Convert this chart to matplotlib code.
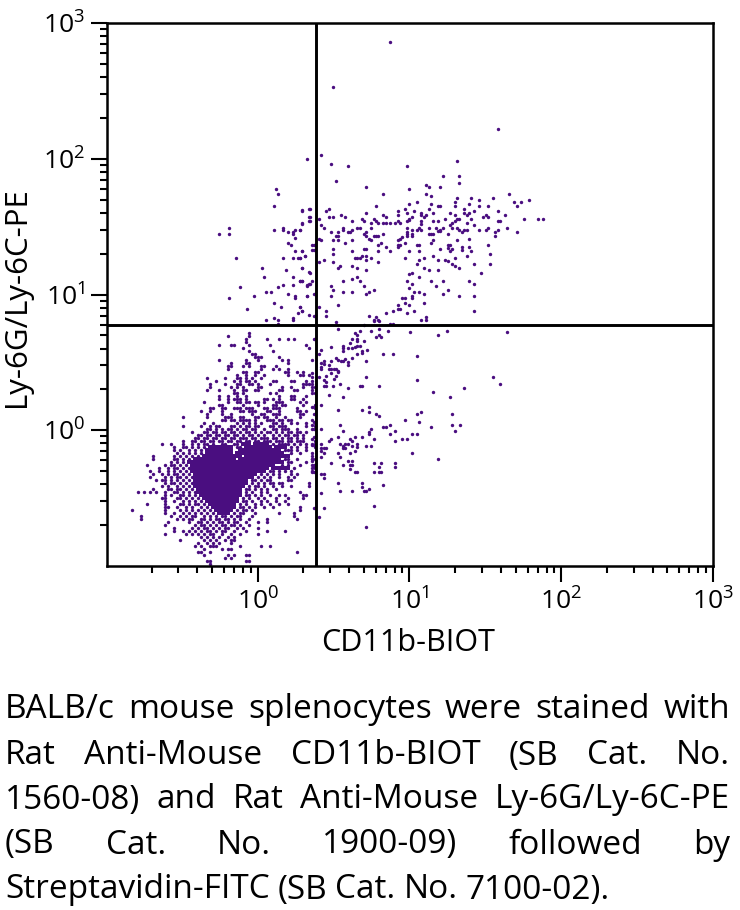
import numpy as np
import matplotlib
matplotlib.use("Agg")
import matplotlib.pyplot as plt
from matplotlib.ticker import FixedLocator, NullFormatter

plt.rcParams['font.family'] = ['Open Sans', 'DejaVu Sans']
plt.rcParams['mathtext.fontset'] = 'custom'
plt.rcParams['mathtext.rm'] = 'Open Sans'

X_LABEL = "CD11b-BIOT"
Y_LABEL = "Ly-6G/Ly-6C-PE"
X_GATE = 2.44
Y_GATE = 5.96
MAJOR_TICKS = [1, 10, 100, 1000]
TICK_LABELS = [r"$\mathregular{10^{0}}$", r"$\mathregular{10^{1}}$",
               r"$\mathregular{10^{2}}$", r"$\mathregular{10^{3}}$"]
CAPTION = [
    "BALB/c mouse splenocytes were stained with",
    "Rat Anti-Mouse CD11b-BIOT (SB Cat. No.",
    "1560-08) and Rat Anti-Mouse Ly-6G/Ly-6C-PE",
    "(SB Cat. No. 1900-09) followed by",
    "Streptavidin-FITC (SB Cat. No. 7100-02).",
]

# events, as (log10 CD11b, log10 Ly-6G/Ly-6C)
upper_events = [
 (.873,2.862),(.498,2.532),(1.581,2.218),(.324,1.996),(.418,2.028),(.482,1.964),(.592,1.95),(.983,1.95),(1.313,1.981),
 (.513,1.839),(1.221,1.871),(1.328,1.871),(1.328,1.822),(.717,1.792),(.999,1.775),(1.111,1.807),(1.126,1.792),(1.203,1.792),
 (.827,1.743),(1.111,1.743),(1.142,1.728),(1.658,1.743),(1.313,1.711),(1.407,1.711),(1.456,1.696),(1.548,1.711),(1.785,1.696),
 (1.691,1.679),(1.737,1.679),(1.706,1.649),(1.047,1.679),(.999,1.664),(1.142,1.664),(1.188,1.649),(1.203,1.649),(1.298,1.679),
 (1.298,1.649),(1.392,1.664),(1.456,1.649),(1.517,1.649),(.781,1.649),(.968,1.632),(1.126,1.632),(1.361,1.632),(.342,1.632),
 (.293,1.617),(.467,1.632),(.451,1.617),(.922,1.617),(.922,1.585),(1.032,1.617),(.983,1.6),(1.078,1.6),(1.078,1.585),(1.157,1.6),
 (1.267,1.6),(1.361,1.6),(1.377,1.585),(1.298,1.585),(1.392,1.6),(1.425,1.617),(1.581,1.617),(1.627,1.585),(.717,1.6),(.546,1.585),
 (.577,1.571),(.467,1.571),(.498,1.571),(.342,1.571),(.342,1.539),(.827,1.585),(.843,1.571),(1.016,1.571),(1.0,1.553),(1.111,1.585),
 (1.093,1.571),(1.236,1.553),(1.487,1.571),(1.502,1.585),(1.517,1.571),(1.407,1.553),(1.313,1.553),(1.328,1.553),(1.752,1.553),
 (1.847,1.553),(1.878,1.553),(.403,1.553),(.687,1.553),(.702,1.539),(.623,1.539),(.766,1.553),(.781,1.539),(.796,1.526),(.748,1.526),
 (.827,1.526),(.843,1.526),(.873,1.526),(.906,1.526),(.922,1.539),(.937,1.526),(.983,1.539),(.999,1.546),(1.078,1.539),(1.078,1.522),
 (1.157,1.539),(1.188,1.539),(1.282,1.526),(1.298,1.539),(1.377,1.526),(1.581,1.539),(1.597,1.539),(.293,1.526),(.418,1.509),(.434,1.492),
 (.28,1.477),(1.267,1.509),(1.282,1.492),(1.425,1.509),(1.643,1.492),(.748,1.492),(.983,1.492),(1.062,1.492),(1.047,1.477),(1.078,1.477),
 (1.126,1.492),(1.172,1.492),(1.221,1.492),(1.203,1.477),(1.313,1.492),(1.328,1.477),(1.456,1.477),(1.502,1.477),(1.517,1.492),(1.581,1.477),
 (1.566,1.46),(1.566,1.428),(1.706,1.46),(.561,1.492),(.561,1.477),(.656,1.492),(.671,1.492),(.482,1.46),(.528,1.46),(.592,1.46),(.607,1.46),
 (.623,1.472),(.717,1.46),(.827,1.448),(.983,1.46),(.983,1.442),(.983,1.428),(1.014,1.472),(1.014,1.448),(1.014,1.428),(1.126,1.448),
 (1.142,1.448),(1.157,1.448),(1.188,1.467),(1.203,1.467),(1.251,1.442),(1.346,1.46),(1.361,1.472),(1.377,1.472),(.513,1.428),(.528,1.428),
 (.702,1.442),(.717,1.428),(.733,1.411),(.748,1.398),(.766,1.428),(.781,1.428),(.796,1.428),(.937,1.411),(.922,1.403),(.953,1.423),
 (.403,1.411),(.418,1.403),(.498,1.398),(.528,1.398),(.623,1.398),(.577,1.381),(.812,1.381),(.796,1.366),(.968,1.381),(1.157,1.398),
 (1.142,1.381),(1.313,1.398),(1.392,1.411),(1.517,1.366),(.357,1.361),(.372,1.361),(.357,1.33),(.372,1.33),(.843,1.349),(.922,1.366),
 (.937,1.366),(.922,1.347),(1.047,1.366),(1.062,1.366),(1.251,1.361),(1.267,1.361),(1.251,1.344),(1.346,1.349),(1.346,1.33),(1.392,1.349),
 (1.407,1.32),(.498,1.332),(.498,1.302),(.702,1.332),(.717,1.332),(.623,1.32),(.796,1.32),(.873,1.32),(.999,1.32),(1.062,1.32),(1.203,1.332),
 (1.267,1.32),(1.282,1.332),(.293,1.32),(.309,1.285),(.28,1.271),(.687,1.285),(.671,1.271),(.656,1.271),(.64,1.271),(.717,1.285),(.717,1.256),
 (.748,1.271),(.968,1.271),(1.093,1.271),(1.062,1.256),(1.157,1.285),(1.188,1.256),(1.298,1.271),(1.377,1.285),(1.533,1.302),(.434,1.256),
 (.403,1.238),(.498,1.238),(.796,1.238),(1.047,1.226),(1.236,1.256),(1.251,1.246),(1.282,1.221),(1.298,1.209),(1.425,1.221),(1.533,1.221),
 (.623,1.209),(.656,1.192),(.544,1.209),(.528,1.192),(.293,1.192),(.717,1.177),(1.093,1.192),(1.126,1.177),(1.188,1.177),(1.328,1.192),
 (.342,1.16),(1.016,1.16),(1.0,1.148),(1.471,1.16),(1.062,1.131),(.656,1.131),(.623,1.113),(.561,1.096),(.671,1.096),(.28,1.098),(.293,1.098),
 (.357,1.096),(.342,1.079),(.324,1.064),(.983,1.096),(1.142,1.096),(1.221,1.096),(1.172,1.064),(1.392,1.096),(1.425,1.079),(1.016,1.081),
 (.999,1.049),(.482,1.064),(.498,1.034),(.702,1.064),(.764,1.034),(.733,1.017),(.717,1.005),(.561,1.017),(.623,1.017),(1.251,1.034),
 (1.032,1.017),(1.062,1.017),(1.093,1.002),(1.221,1.002),(.372,1.002),(.324,.988),(.482,.988),(1.328,.988),(1.425,.988),(.953,.973),
 (.968,.973),(1.016,.988),(1.016,.973),(.968,.938),(.999,.924),(1.093,.938),(.528,.924),(.922,.924),(.922,.892),(.937,.892),(.403,.909),
 (.28,.909),(.293,.877),(.451,.877),(.451,.845),(.372,.845),(.891,.877),(.843,.862),(.983,.862),(1.032,.877),(1.425,.877),(.733,.845),
 (.781,.833),(.766,.815),(.796,.815),(1.111,.833),(1.111,.815),(1.078,.815),
]

lower_events = [
 (1.643,.722),(1.001,.722),(1.188,.705),(1.249,.734),(.858,.734),(.797,.746),(.748,.734),(.671,.734),(.531,.746),(.797,.705),(.812,.69),
 (.781,.69),(.638,.717),(.654,.705),(.372,.673),(.654,.673),(.654,.655),(.702,.655),(.623,.673),(.608,.641),(.482,.611),(.419,.592),
 (.561,.623),(.561,.606),(.561,.587),(.592,.606),(.623,.606),(.638,.611),(.671,.623),(.656,.623),(.72,.592),(.687,.567),(.656,.562),
 (.687,.582),(.827,.562),(.891,.562),(1.047,.545),(.403,.562),(.623,.53),(.513,.53),(.531,.518),(.546,.513),(.561,.513),(.577,.525),
 (.717,.513),(.482,.513),(.436,.513),(.419,.496),(.436,.488),(.592,.5),(.592,.483),(.419,.464),(.419,.451),(.467,.481),(.467,.451),
 (.482,.451),(.5,.451),(.515,.451),(.531,.427),(.531,.434),(.482,.422),(.515,.402),(.5,.378),(.451,.402),(.357,.422),(.357,.39),(.405,.39),
 (.434,.37),(.451,.353),(.717,.39),(1.047,.372),(1.548,.39),(1.597,.34),(.544,.34),(.434,.323),(.451,.323),(.498,.323),(.671,.323),
 (.687,.323),(.797,.323),(.592,.309),(1.361,.309),(1.157,.279),(.467,.262),(.561,.245),(1.267,.245),(.419,.183),(.357,.168),(.372,.168),
 (.531,.151),(.687,.151),(.733,.168),(.733,.136),(.372,.119),(.779,.119),(.797,.104),(1.047,.119),(1.078,.136),(1.282,.119),(.968,.075),
 (1.062,.058),(.372,.058),(.357,.04),(.544,.04),(.873,.04),(.827,.026),(.843,.026),(1.282,.04),(1.331,.04),(1.139,.026),(.419,.009),
 (.357,.009),(.372,.009),(.561,-.006),(.906,-.006),(.748,.009),(.733,-.011),(.733,-.028),(1.298,-.006),(.873,-.024),(1.016,-.024),
 (1.047,-.024),(.687,-.053),(.531,-.053),(.482,-.065),(.467,-.082),(.608,-.065),(.623,-.082),(.638,-.053),(.764,-.068),(.953,-.068),
 (.986,-.068),(.906,-.082),(.357,-.065),(.372,-.053),(.357,-.107),(.372,-.107),(.544,-.1),(.577,-.1),(.592,-.1),(.561,-.117),(.577,-.134),
 (.561,-.134),(.656,-.1),(.623,-.117),(.656,-.127),(.717,-.117),(.748,-.117),(.419,-.1),(.419,-.134),(.436,-.134),(.451,-.13),(.419,-.151),
 (.436,-.166),(.531,-.164),(.608,-.164),(.638,-.151),(1.016,-.164),(.357,-.164),(.419,-.196),(.544,-.196),(1.188,-.21),(.357,-.213),
 (.357,-.225),(.592,-.228),(.623,-.228),(.764,-.242),(.812,-.242),(.906,-.242),(.482,-.242),(.372,-.257),(.561,-.257),(.608,-.257),
 (.623,-.257),(.797,-.274),(.906,-.274),(.608,-.289),(.638,-.304),(.654,-.304),(.764,-.304),(.797,-.304),(.812,-.304),(.372,-.274),
 (.372,-.304),(.357,-.304),(.419,-.321),(.436,-.321),(.436,-.353),(.531,-.385),(.687,-.385),(.687,-.415),(.827,-.4),(.733,-.432),
 (.717,-.447),(.702,-.447),(.544,-.447),(.623,-.447),(.419,-.464),(.764,-.557),(.372,-.575),(.436,-.575),(.403,-.639),(.717,-.715),
 (.513,.796),(.702,.778),(.873,.783),(.889,.783),(.764,.808),(.797,.808),
]

left_events = [
 (.122,1.778),(.137,1.743),(.107,1.65),(-.256,1.443),(-.192,1.492),(-.192,1.443),(.107,1.477),(.168,1.487),(.168,1.477),(.201,1.46),
 (.232,1.46),(.232,1.443),(.247,1.477),(.278,1.477),(.294,1.62),(.34,1.632),(.34,1.571),(.34,1.541),(.294,1.522),(.247,1.414),(.201,1.379),
 (.217,1.367),(.247,1.32),(.294,1.32),(-.146,1.271),(.168,1.271),(.232,1.271),(.263,1.271),(.278,1.271),(.309,1.286),(.028,1.192),(.043,1.131),
 (.184,1.177),(.294,1.192),(.34,1.163),(.232,1.131),(.278,1.099),(.294,1.099),(-.115,1.052),(.168,1.067),(.137,1.052),(.232,1.067),(.324,1.067),
 (.34,1.079),(.058,1.017),(.089,1.017),(-.192,.973),(-.021,.988),(.201,1.003),(.247,.988),(.247,.973),(.324,.988),(.107,.939),(-.067,.892),
 (.153,.909),(.278,.909),(.294,.877),(.263,.862),(.107,.83),(.137,.813),(.232,.83),(.232,.813),(.058,.813),(.137,.784),(.34,.848),
]

# occupancy of the crowded lower-left region: one entry per bin row, listing occupied
# column bins; "a-b" is a solid run of bins
BIN_X0, BIN_DX = -0.8405, 0.01978
BIN_Y0, BIN_DY = 0.8155, 0.02214
FIRST_ROW = 4
crowded_rows = [
 "39","32,39","38,45,49,52,54,61","38","29,33,34,39,46,58","37,59","39,47","40,41","41,42,43,49","29,38,42,50,52,60",
 "33,38,39,52","32,33,37,39,43,44,48","32,43,47,49,52","37,38,41,42,51,52,55,57","35,38,41,44,52,56,57,59",
 "25,31,35,36,38,40,43","28,34,36,38,39,41,47,48,53,54,58,60","26,31,35,36,39,40,42,46,57,58,59,60",
 "26,33,35,37,42,43,50,53,57,60,61","25,29,34,37,38,41,42,49,50,54,55,60","34,35,37,46,48,60,61","29,32,35,38,49,53,54,58",
 "29,32,34,35,36,38,44,45,47,49,53,54,57","24,32,35,36,38,39,41,42,44,48,49,50,56,58","29,30,37,42,47,48,50,51,57,61",
 "26,27,30,31,34,35,36,38,39,40,44,45,47,48,49,55,61","23,26,30,36,37,39,40,41,45,46,49,55,56,58","25,30,33,40,43,44,47,48,49,56,57",
 "17,25,31,32,33,36,37,41,42,44,45,48,51,56","30,31,33,34,36,37,38,39,41,45,46,47,49,50,52,53,60",
 "24,27,35,37,39,41,43,47,48,50,53,55,58,61","17,23,26,28,29,33,34,36,38,39,41,42,46,47,49,50,51,58,61",
 "25,26,28,30,32,33,35,37,38,40,41,44,47,48,50,51,52,55","20,24,25,27,28,30,31,33,34,36,38,39,41,43,45,46,48,50,52,53,55,56,58",
 "22,23,25,26,28,29,31,32,34,35,37,39,40,42,44,47,49,51,52,54,55,57","21,22,24,25,27,28,30,31,33,34,36,37,38,40,41,43,44,45,47,48,50,52,53,55,57",
 "17,20,21,23,24,26,27,29,30,32,33,35,36,38,39,41,42,44,45,46,48,49,50,52,53,55,56,57,61","10,13,17,20,22,24,25,27,30,31,34,35,37-39,41-45,47,49,50,51,52,54,56,58,60,61",
 "14,17,18,20,22,24,26-33,35,36,38-46,48-51,53,55,58,61","14,16,19,21,23,25-33,36-49,51,52,53,55,58",
 "15,17,19,21,23,25-33,35-50,53,56","7,14,16,18,20,22,24-36,38-52,60","7,14,15,17,19,21-34,36-49,51,52,55,60,61",
 "13,15,17,19-50,52,53,58","5,11,13,14,16,18,20-47,50,52,56,60,61","9,12,14,15,17,19,20-45,47-52,54,60,61",
 "6,9,12,14,16,18,20-44,46,47,49,51,53,60","7,10,12,14,15,17,19,21-41,43,45,47,49,53,55","6,11,13,15,16,18,20,21-40,42,44,46,49,52,54",
 "8,10,11,13,15,17,19,21-38,40,41,43,45,46,52,53","11,13,14,16,18,20,21-38,40,42,44,46,47,49,50,59","10,12,15,17,19,21-37,39,41,42,44,47,50,53,59",
 "7,12,13,15,16,18,20,22-36,38,39,41,43,45,48","2,4,6,8,11,14,15,17,19,21,22-36,38,40,43,45,56","11,13,16,17,19,21,23-36,38,39,41,43,46,49,51,57,58",
 "10,11,15,16,18,20,22,24-35,37,39,42,44,48,52,57","11,14,17,19,21,23,25-35,37,38,40,43,45,48,51","5,11,16,17,19,21,22,24,26-34,36,38,41,43,46,49,52",
 "11,12,15,18,20,23,25,27-34,36,37,39,41,44,47,56","0,11,16,18,20,22,24,26,28-33,35,37,38,40,56","11,14,17,19,21,23,25,27,29-32,34,36,37,41,49,54",
 "3,13,16,18,20,21,24,26,28,30,31,33,35,36,40,54","3,15,17,19,20,23,24,26,28,29,31,32,34,36,39,45,55","12,19,22,23,25,27,29,30,32,34,35,38,42,45",
 "11,21,23,24,26,28,30,31,33,34,36,39","14,20,22,24,25,27,29,31,32,35,37,42","14,17,19,21,23,25,26,28,30,31,34,38,45,51",
 "11,18,20,22,24,26,27,30,33,36,42","23,25,27,29,32,34","16,24,26,28,31,33,34","22,25,27,29,33","21,23,26,27,28,36,43,46",
 "24,30,32,33","22,23,26,55","24,32,34,38,39","31,33","25,26,38,39","26",
]

PURPLE = "#4a0e80"

def parse_bins():
    single, solid = [], []
    for r, row in enumerate(crowded_rows):
        ly = BIN_Y0 - (r + FIRST_ROW + 0.5) * BIN_DY
        for tok in row.split(","):
            if "-" in tok:
                a, b = tok.split("-")
                for c in range(int(a), int(b) + 1):
                    solid.append((BIN_X0 + (c + 0.5) * BIN_DX, ly))
            else:
                single.append((BIN_X0 + (int(tok) + 0.5) * BIN_DX, ly))
    return np.array(single), np.array(solid)

fig = plt.figure(figsize=(7.4, 9.1), dpi=100)
ax = fig.add_axes([107/740, 1-566/910, (713-107)/740, (566-23)/910])
ax.set_xscale("log")
ax.set_yscale("log")
ax.set_xlim(0.1017, 1000)
ax.set_ylim(0.1, 1000)

events = np.array(upper_events + lower_events + left_events)
single, solid = parse_bins()
dots = np.vstack([events, single])
ax.scatter(10**dots[:, 0], 10**dots[:, 1], s=6.0, c=PURPLE, linewidths=0, zorder=2)
ax.scatter(10**solid[:, 0], 10**solid[:, 1], s=5.6, c=PURPLE, marker="s", linewidths=0, zorder=2)

ax.axvline(X_GATE, color="black", lw=2.1, zorder=3)
ax.axhline(Y_GATE, color="black", lw=2.1, zorder=3)

minor = [m * 10.0**e for e in range(-1, 3) for m in range(2, 10)]
for axis in (ax.xaxis, ax.yaxis):
    axis.set_major_locator(FixedLocator(MAJOR_TICKS))
    axis.set_minor_locator(FixedLocator(minor))
    axis.set_minor_formatter(NullFormatter())
ax.set_xticklabels(TICK_LABELS)
ax.set_yticklabels(TICK_LABELS)
ax.tick_params(which="major", length=11.5, width=1.5, labelsize=19, pad=4.5, color="black")
ax.tick_params(which="minor", length=5, width=1.5)
for s in ax.spines.values():
    s.set_linewidth(1.8)

fig.text(408/740, 1-643/910, X_LABEL, ha="center", va="center", fontsize=22)
fig.text(17/740, 1-297/910, Y_LABEL, ha="center", va="center", rotation=90, fontsize=22.5)

# justified caption
renderer = fig.canvas.get_renderer()
LEFT, RIGHT = 5, 730
line_y = [710, 756, 800, 845, 890]
for i, (line, yy) in enumerate(zip(CAPTION, line_y)):
    words = line.split(" ")
    arts = [fig.text(0, 1-yy/910, w, ha="left", va="center", fontsize=24) for w in words]
    widths = [a.get_window_extent(renderer).width for a in arts]
    if i < len(CAPTION) - 1:
        gap = (RIGHT - LEFT - sum(widths)) / (len(words) - 1)
    else:
        gap = 8
    xpos = LEFT
    for a, w in zip(arts, widths):
        a.set_x(xpos / 740)
        xpos += w + gap

fig.savefig("out.png", dpi=100)
